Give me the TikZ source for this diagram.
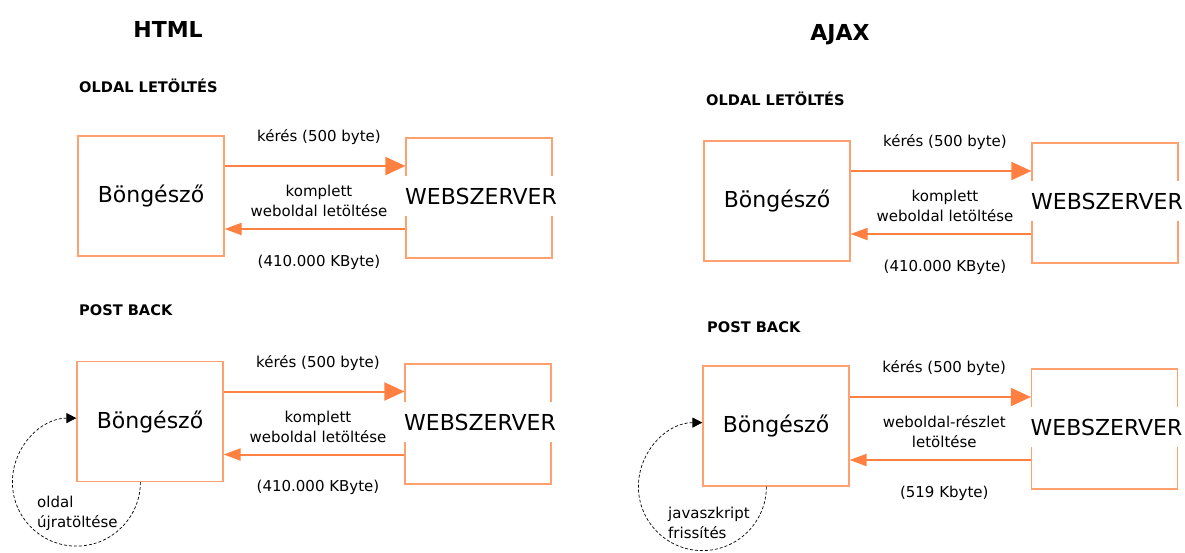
\documentclass[tikz,border=0pt]{standalone}
\usepackage{fontspec}
\setmainfont{DejaVu Sans}
\usetikzlibrary{arrows.meta,positioning}
\definecolor{boxOr}{RGB}{255,160,110}
\definecolor{arrOr}{RGB}{255,128,64}

\begin{document}
\begin{tikzpicture}[x=1pt, y=-1pt,
  panel/.style={draw=boxOr, line width=1.2pt, minimum width=146pt,
    minimum height=120pt, inner sep=0pt, font=\fontsize{22}{26}\selectfont},
  srvtxt/.style={fill=white, inner sep=0pt, minimum height=40pt,
    font=\fontsize{22}{26}\selectfont},
  title/.style={font=\bfseries\fontsize{22}{26}\selectfont, anchor=base, inner sep=0pt},
  head/.style={font=\bfseries\fontsize{14.6}{17}\selectfont, anchor=base west, inner sep=0pt},
  lab/.style={font=\fontsize{15}{20}\selectfont, text=black, align=center, inner sep=0pt, xshift=4pt},
  note/.style={font=\fontsize{15}{20}\selectfont, align=left, anchor=north west, inner sep=0pt},
  req/.style={-{Triangle[length=20pt,width=18pt]}, line width=2pt, arrOr},
  resp/.style={-{Triangle[length=17pt,width=12pt]}, line width=2pt, arrOr},
  reload/.style={-{Triangle[length=10pt,width=10pt]}, densely dashed, line width=0.7pt},
]
\useasboundingbox (0,0) rectangle (1185,552);

% column titles
\node[title] (html) at (168,37) {HTML};
\node[title] (ajax) at (840,40) {AJAX};

% HTML: page download
\node[head] (h1) at (79,92) {OLDAL LETÖLTÉS};
\node[panel] (bro1) at (151,196) {Böngésző};
\node[panel] (srv1) at (479,198) {};
\node[srvtxt] (srv1t) at ([xshift=2pt,yshift=2pt]srv1.center) {WEBSZERVER};
\draw[req] ([yshift=30pt]bro1.east) -- ([yshift=30pt]bro1.east -| srv1.west)
  node[lab, midway, above=20pt] {kérés (500 byte)};
\draw[resp] ([yshift=-33pt]bro1.east -| srv1.west) -- ([yshift=-33pt]bro1.east)
  node[lab, midway, above=11pt] {komplett\\weboldal letöltése}
  node[lab, midway, below=25pt] {(410.000 KByte)};

% HTML: post back
\node[head] (h2) at (79,315) {POST BACK};
\node[panel] (bro2) at (150,421.5) {Böngésző};
\node[panel] (srv2) at (478,424) {};
\node[srvtxt] (srv2t) at ([xshift=2pt,yshift=2pt]srv2.center) {WEBSZERVER};
\draw[req] ([yshift=30pt]bro2.east) -- ([yshift=30pt]bro2.east -| srv2.west)
  node[lab, midway, above=20pt] {kérés (500 byte)};
\draw[resp] ([yshift=-33pt]bro2.east -| srv2.west) -- ([yshift=-33pt]bro2.east)
  node[lab, midway, above=11pt] {komplett\\weboldal letöltése}
  node[lab, midway, below=25pt] {(410.000 KByte)};
\draw[reload] ([xshift=64pt]bro2.south west) arc[start angle=0, end angle=-270, radius=64pt];
\node[note] (n2) at (37,496) {oldal\\újratöltése};

% AJAX: page download
\node[head] (h3) at (706,105) {OLDAL LETÖLTÉS};
\node[panel] (bro3) at (777,201) {Böngésző};
\node[panel] (srv3) at (1105,203) {};
\node[srvtxt] (srv3t) at ([xshift=2pt,yshift=2pt]srv3.center) {WEBSZERVER};
\draw[req] ([yshift=30pt]bro3.east) -- ([yshift=30pt]bro3.east -| srv3.west)
  node[lab, midway, above=20pt] {kérés (500 byte)};
\draw[resp] ([yshift=-33pt]bro3.east -| srv3.west) -- ([yshift=-33pt]bro3.east)
  node[lab, midway, above=11pt] {komplett\\weboldal letöltése}
  node[lab, midway, below=25pt] {(410.000 KByte)};

% AJAX: post back
\node[head] (h4) at (707,332) {POST BACK};
\node[panel] (bro4) at (776,426) {Böngésző};
\node[panel] (srv4) at (1104.5,429) {};
\node[srvtxt] (srv4t) at ([xshift=2pt,yshift=2pt]srv4.center) {WEBSZERVER};
\draw[req] ([yshift=29pt]bro4.east) -- ([yshift=29pt]bro4.east -| srv4.west)
  node[lab, midway, above=20pt] {kérés (500 byte)};
\draw[resp] ([yshift=-34pt]bro4.east -| srv4.west) -- ([yshift=-34pt]bro4.east)
  node[lab, midway, above=11pt] {weboldal-részlet\\letöltése}
  node[lab, midway, below=25pt] {(519 Kbyte)};
\draw[reload] ([xshift=64pt]bro4.south west) arc[start angle=0, end angle=-270, radius=64pt];
\node[note] (n4) at (668,507) {javaszkript\\frissítés};

\end{tikzpicture}
\end{document}
